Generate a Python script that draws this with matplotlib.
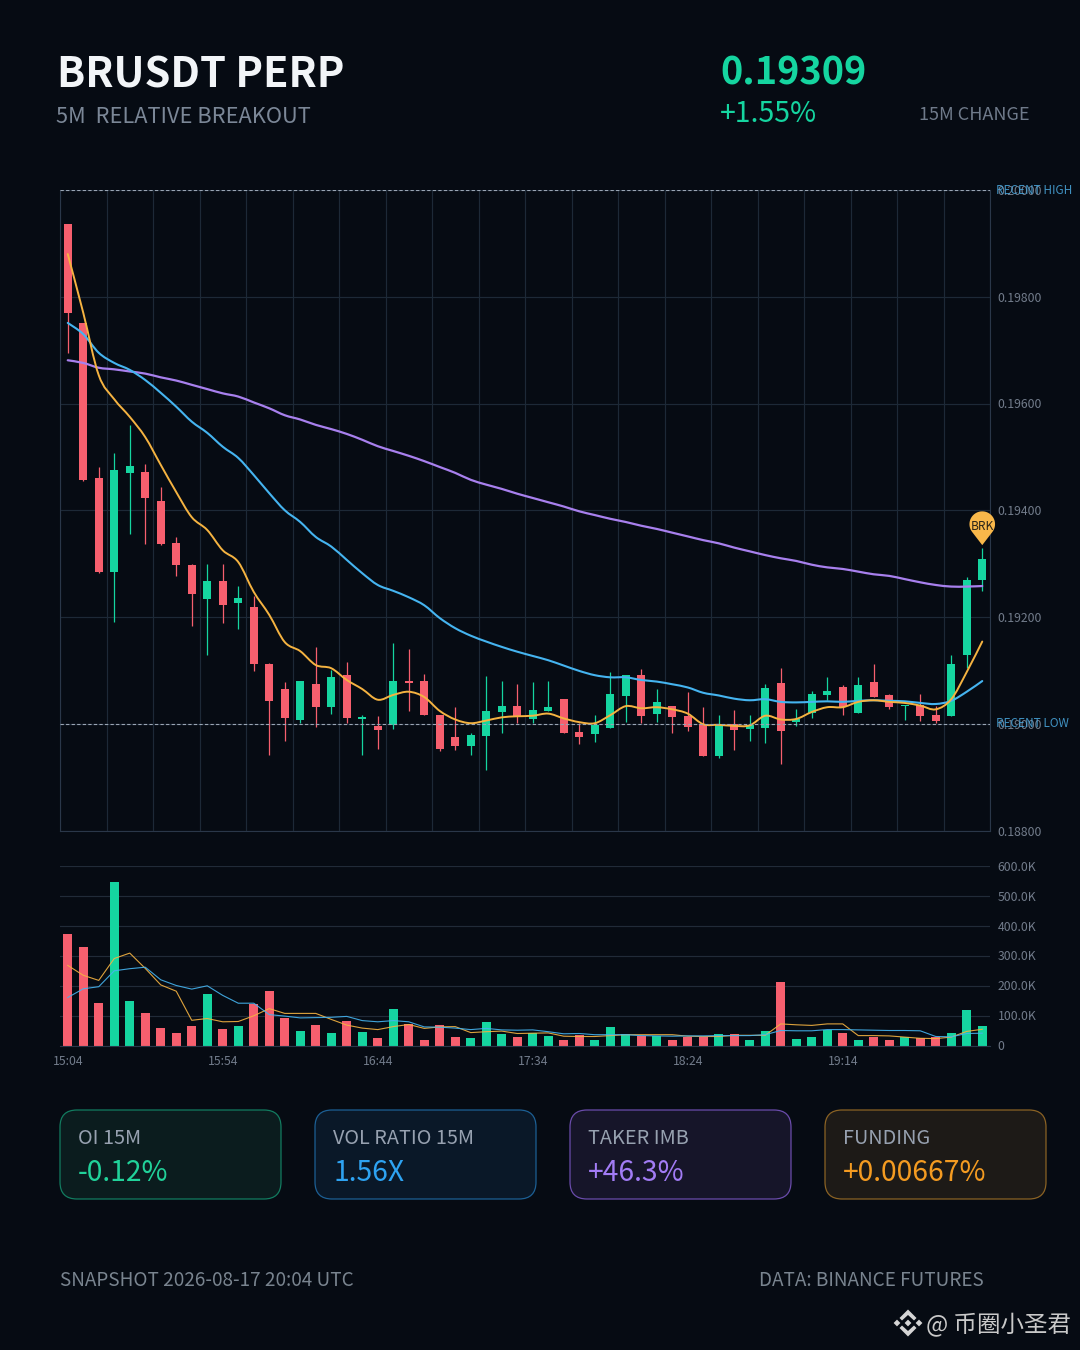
import numpy as np
import matplotlib
matplotlib.use('Agg')
import matplotlib.pyplot as plt
from matplotlib.patches import FancyBboxPatch, PathPatch, Polygon
from matplotlib.path import Path

plt.rcParams['font.family'] = ['Noto Sans CJK SC', 'DejaVu Sans']

opens = [0.19936, 0.19751, 0.19460, 0.19285, 0.19470, 0.19472, 0.19417, 0.19338, 0.19297, 0.19234,
         0.19267, 0.19227, 0.19218, 0.19112, 0.19065, 0.19007, 0.19074, 0.19031, 0.19091, 0.19009,
         0.18996, 0.18997, 0.19081, 0.19080, 0.19017, 0.18975, 0.18959, 0.18977, 0.19022, 0.19034,
         0.19009, 0.19024, 0.19046, 0.18984, 0.18980, 0.18992, 0.19052, 0.19091, 0.19019, 0.19033,
         0.19014, 0.18999, 0.18940, 0.18999, 0.18990, 0.18992, 0.19076, 0.19003, 0.19021, 0.19054,
         0.19069, 0.19020, 0.19079, 0.19053, 0.19033, 0.19035, 0.19017, 0.19015, 0.19128, 0.19270]
closes = [0.19770, 0.19457, 0.19285, 0.19475, 0.19483, 0.19423, 0.19337, 0.19298, 0.19243, 0.19267,
          0.19223, 0.19235, 0.19112, 0.19043, 0.19010, 0.19081, 0.19031, 0.19087, 0.19010, 0.19012,
          0.18989, 0.19081, 0.19076, 0.19016, 0.18952, 0.18959, 0.18978, 0.19024, 0.19033, 0.19015,
          0.19025, 0.19031, 0.18982, 0.18975, 0.18997, 0.19055, 0.19091, 0.19014, 0.19041, 0.19013,
          0.18994, 0.18940, 0.18999, 0.18989, 0.18997, 0.19067, 0.18987, 0.19008, 0.19055, 0.19061,
          0.19031, 0.19072, 0.19050, 0.19031, 0.19035, 0.19014, 0.19005, 0.19112, 0.19269, 0.19309]
highs = [0.19936, 0.19751, 0.19481, 0.19508, 0.19560, 0.19487, 0.19444, 0.19350, 0.19299, 0.19299,
         0.19299, 0.19258, 0.19240, 0.19113, 0.19079, 0.19081, 0.19144, 0.19100, 0.19115, 0.19016,
         0.19014, 0.19152, 0.19140, 0.19094, 0.19017, 0.19032, 0.18982, 0.19089, 0.19080, 0.19074,
         0.19079, 0.19080, 0.19046, 0.19001, 0.19017, 0.19097, 0.19091, 0.19102, 0.19066, 0.19033,
         0.19059, 0.19032, 0.19017, 0.19026, 0.19016, 0.19074, 0.19104, 0.19027, 0.19061, 0.19087,
         0.19072, 0.19087, 0.19112, 0.19056, 0.19035, 0.19055, 0.19033, 0.19129, 0.19275, 0.19329]
lows = [0.19695, 0.19454, 0.19282, 0.19190, 0.19355, 0.19337, 0.19335, 0.19277, 0.19184, 0.19129,
        0.19189, 0.19177, 0.19099, 0.18942, 0.18968, 0.19001, 0.18994, 0.19019, 0.19001, 0.18941,
        0.18952, 0.18990, 0.19024, 0.19016, 0.18949, 0.18951, 0.18942, 0.18913, 0.18983, 0.19001,
        0.19001, 0.19024, 0.18982, 0.18962, 0.18965, 0.18992, 0.19004, 0.19001, 0.19003, 0.18983,
        0.18986, 0.18940, 0.18936, 0.18951, 0.18967, 0.18964, 0.18924, 0.18996, 0.19011, 0.19044,
        0.19017, 0.19020, 0.19050, 0.19027, 0.19007, 0.19005, 0.19002, 0.19015, 0.19105, 0.19249]

ma_fast = [0.19880, 0.19770, 0.19653, 0.19608, 0.19575, 0.19537, 0.19485, 0.19434, 0.19387, 0.19363,
           0.19325, 0.19303, 0.19247, 0.19204, 0.19153, 0.19136, 0.19110, 0.19104, 0.19082, 0.19065,
           0.19045, 0.19054, 0.19060, 0.19050, 0.19024, 0.19008, 0.19001, 0.19006, 0.19012, 0.19014,
           0.19015, 0.19019, 0.19010, 0.19003, 0.19001, 0.19016, 0.19033, 0.19029, 0.19031, 0.19027,
           0.19019, 0.18999, 0.18998, 0.18996, 0.18997, 0.19015, 0.19008, 0.19009, 0.19022, 0.19031,
           0.19031, 0.19041, 0.19044, 0.19041, 0.19039, 0.19034, 0.19027, 0.19046, 0.19097, 0.19154]
ma_mid = [0.19751, 0.19730, 0.19695, 0.19676, 0.19663, 0.19644, 0.19620, 0.19594, 0.19566, 0.19545,
          0.19519, 0.19498, 0.19466, 0.19432, 0.19400, 0.19378, 0.19350, 0.19332, 0.19307, 0.19282,
          0.19260, 0.19249, 0.19237, 0.19222, 0.19198, 0.19179, 0.19165, 0.19154, 0.19144, 0.19135,
          0.19127, 0.19119, 0.19109, 0.19099, 0.19091, 0.19087, 0.19087, 0.19082, 0.19079, 0.19074,
          0.19068, 0.19058, 0.19053, 0.19047, 0.19044, 0.19046, 0.19041, 0.19040, 0.19041, 0.19042,
          0.19041, 0.19043, 0.19044, 0.19043, 0.19042, 0.19039, 0.19037, 0.19043, 0.19060, 0.19080]
ma_slow = [0.19681, 0.19676, 0.19667, 0.19664, 0.19660, 0.19656, 0.19649, 0.19643, 0.19635, 0.19627,
           0.19619, 0.19613, 0.19602, 0.19591, 0.19578, 0.19570, 0.19560, 0.19552, 0.19543, 0.19532,
           0.19520, 0.19511, 0.19502, 0.19492, 0.19481, 0.19470, 0.19457, 0.19448, 0.19440, 0.19431,
           0.19423, 0.19415, 0.19407, 0.19398, 0.19391, 0.19384, 0.19378, 0.19371, 0.19365, 0.19358,
           0.19351, 0.19344, 0.19338, 0.19330, 0.19323, 0.19316, 0.19310, 0.19305, 0.19298, 0.19293,
           0.19290, 0.19285, 0.19280, 0.19277, 0.19271, 0.19265, 0.19260, 0.19257, 0.19257, 0.19258]

# volume in thousands
volume = [371, 328, 143, 546, 148, 108, 60, 42, 66, 171,
          56, 66, 138, 181, 93, 50, 67, 43, 82, 44,
          24, 121, 71, 20, 70, 30, 24, 78, 37, 27,
          42, 31, 19, 34, 19, 61, 39, 31, 33, 17,
          30, 29, 40, 39, 20, 50, 211, 23, 28, 53,
          42, 20, 29, 20, 28, 24, 27, 42, 120, 66]
vol_fast = [267, 234, 217, 290, 308, 257, 202, 181, 84, 90,
            79, 80, 99, 123, 107, 107, 107, 87, 68, 58,
            53, 63, 70, 57, 62, 63, 43, 46, 48, 40,
            41, 42, 31, 30, 30, 33, 36, 36, 36, 36,
            31, 30, 30, 34, 34, 34, 72, 69, 67, 72,
            72, 33, 33, 32, 28, 24, 23, 28, 47, 54]
vol_slow = [160, 189, 196, 249, 256, 261, 219, 200, 188, 199,
            167, 141, 141, 103, 98, 92, 93, 94, 97, 83,
            79, 83, 79, 62, 61, 58, 53, 57, 52, 51,
            52, 46, 39, 40, 36, 36, 36, 33, 32, 31,
            32, 32, 33, 33, 33, 36, 50, 49, 49, 53,
            53, 52, 51, 50, 50, 49, 30, 29, 40, 41]

price_ticks = [0.188, 0.190, 0.192, 0.194, 0.196, 0.198, 0.200]
vol_ticks = [0, 100, 200, 300, 400, 500, 600]
vol_tick_labels = ['0', '100.0K', '200.0K', '300.0K', '400.0K', '500.0K', '600.0K']
time_labels = ['15:04', '15:54', '16:44', '17:34', '18:24', '19:14']
recent_high = 0.200
recent_low = 0.190

BG = '#060b13'
GRID = '#1d2937'
AXIS = '#2a3749'
RED = '#f65f6e'
GREEN = '#15d5a0'
YELLOW = '#f5b341'
BLUE = '#45b4f0'
PURPLE = '#a880ee'
TICK = '#727c8b'

W, H = 1080, 1350
fig = plt.figure(figsize=(W / 100, H / 100), dpi=100, facecolor=BG)


def px_axes(left, top, right, bottom, **kw):
    return fig.add_axes([left / W, 1 - bottom / H, (right - left) / W, (bottom - top) / H], **kw)


def smooth_line(axis, xs, ys, color, lw, zorder):
    # bezier through the points, the lines on the reference are drawn smoothed
    xs = np.asarray(xs, dtype=float)
    ys = np.asarray(ys, dtype=float)
    verts = [(xs[0], ys[0])]
    codes = [Path.MOVETO]
    n = len(xs)
    for i in range(n - 1):
        a, b = max(i - 1, 0), min(i + 2, n - 1)
        verts.append((xs[i] + (xs[i + 1] - xs[a]) / 6, ys[i] + (ys[i + 1] - ys[a]) / 6))
        verts.append((xs[i + 1] - (xs[b] - xs[i]) / 6, ys[i + 1] - (ys[b] - ys[i]) / 6))
        verts.append((xs[i + 1], ys[i + 1]))
        codes += [Path.CURVE4] * 3
    axis.add_patch(PathPatch(Path(verts, codes), fc='none', ec=color, lw=lw, zorder=zorder, capstyle='round'))


x = np.arange(len(closes))
cols = [GREEN if c >= o else RED for o, c in zip(opens, closes)]

# candles
ax = px_axes(60, 190, 990, 830.5, facecolor=BG)
ax.set_xlim(-0.5, 59.5)
ax.set_ylim(0.188, 0.200)
ax.set_yticks(price_ticks)
ax.set_yticklabels([f'{t:.5f}' for t in price_ticks])
ax.set_xticks(np.arange(-0.5, 60, 3))
ax.set_xticklabels([])
ax.yaxis.tick_right()
ax.tick_params(axis='both', length=0)
ax.tick_params(axis='y', colors=TICK, labelsize=8.8, pad=5.5)
ax.grid(True, color=GRID, lw=0.85)
ax.set_axisbelow(True)
ax.spines['top'].set_visible(False)
for side in ['left', 'right', 'bottom']:
    ax.spines[side].set_color(AXIS)
    ax.spines[side].set_linewidth(0.8)

ax.vlines(x, lows, highs, colors=cols, lw=0.9, zorder=2)
body_bottom = np.minimum(opens, closes)
body_height = np.abs(np.array(closes) - np.array(opens))
ax.bar(x, body_height, bottom=body_bottom, width=0.52, color=cols, zorder=3)

smooth_line(ax, x, ma_slow, PURPLE, 1.6, 4)
smooth_line(ax, x, ma_mid, BLUE, 1.5, 4)
smooth_line(ax, x, ma_fast, YELLOW, 1.4, 5)

for level, label in [(recent_high, 'RECENT HIGH'), (recent_low, 'RECENT LOW')]:
    ax.axhline(level, color='#9aa5b4', lw=0.8, ls=(0, (3, 2)), zorder=6)
    ax.text(1.0064, level, label, transform=ax.get_yaxis_transform(), color='#4aa9e0', alpha=0.85,
            fontsize=8.5, va='center', ha='left', clip_on=False)

# volume
ax2 = px_axes(60, 865.5, 990, 1045.5, facecolor=BG)
ax2.set_xlim(-0.5, 59.5)
ax2.set_ylim(0, 600)
ax2.set_yticks(vol_ticks)
ax2.set_yticklabels(vol_tick_labels)
ax2.set_xticks(np.arange(0, 60, 10))
ax2.set_xticklabels(time_labels)
ax2.yaxis.tick_right()
ax2.tick_params(axis='both', length=0, colors=TICK, labelsize=8.8)
ax2.tick_params(axis='y', pad=5.5)
ax2.tick_params(axis='x', pad=6.5)
ax2.grid(True, axis='y', color='#212b38', lw=0.85)
ax2.set_axisbelow(True)
for side in ['top', 'left', 'right']:
    ax2.spines[side].set_visible(False)
ax2.spines['bottom'].set_color(AXIS)
ax2.spines['bottom'].set_linewidth(0.8)

ax2.bar(x, volume, width=0.55, color=cols, zorder=2)
ax2.plot(x, vol_fast, color=YELLOW, lw=0.8, alpha=0.9, zorder=3)
ax2.plot(x, vol_slow, color=BLUE, lw=0.8, alpha=0.9, zorder=3)

# overlay in pixel coords for header, cards, footer
ov = fig.add_axes([0, 0, 1, 1], facecolor='none')
ov.set_xlim(0, W)
ov.set_ylim(H, 0)
ov.axis('off')

ov.text(57, 76, 'BRUSDT PERP', color='#f2f5f8', fontsize=29.9, fontweight='bold', va='center', ha='left')
ov.text(56, 117, '5M  RELATIVE BREAKOUT', color='#7b8797', fontsize=15.7, va='center', ha='left')
ov.text(720, 73, '0.19309', color=GREEN, fontsize=27.3, fontweight='bold', va='center', ha='left')
ov.text(720, 114, '+1.55%', color=GREEN, fontsize=20.4, va='center', ha='left')
ov.text(1030, 115, '15M CHANGE', color='#6f7a8a', fontsize=13, va='center', ha='right')

# breakout pin above the last candle
tip_x, tip_y = ax.transData.transform((x[-1], highs[-1]))
tip_y = H - tip_y - 3
r = 12.8
cy = tip_y - 21
ang = np.radians(np.linspace(-38, 218, 50))
pin = [(tip_x, tip_y)] + [(tip_x + r * np.cos(a), cy - r * np.sin(a)) for a in ang]
ov.add_patch(Polygon(pin, closed=True, fc='#f9b84a', ec='none', zorder=7))
ov.text(tip_x, cy + 2, 'BRK', color='#2a2418', fontsize=8.6, ha='center', va='center', zorder=8)

cards = [
    (60, 'OI 15M', '-0.12%', '#0b1c1e', '#127c60', '#21d29a'),
    (315, 'VOL RATIO 15M', '1.56X', '#0a1828', '#1c5f94', '#2ea3f2'),
    (570, 'TAKER IMB', '+46.3%', '#161529', '#6a4cab', '#a27cf5'),
    (825, 'FUNDING', '+0.00667%', '#1d1a17', '#8a6224', '#f49b21'),
]
for left, title, value, face, edge, col in cards:
    ov.add_patch(FancyBboxPatch((left + 17, 1110 + 17), 221 - 34, 89 - 34,
                                boxstyle='round,pad=17,rounding_size=17', fc=face, ec=edge, lw=0.9))
    ov.text(left + 18, 1139, title, color='#97a1b0', fontsize=14.3, va='center', ha='left')
    ov.text(left + 18, 1173, value, color=col, fontsize=20.3, va='center', ha='left')

ov.text(60, 1281, 'SNAPSHOT 2026-08-17 20:04 UTC', color='#79848f', fontsize=13.65, va='center', ha='left')
ov.text(984, 1281, 'DATA: BINANCE FUTURES', color='#79848f', fontsize=13.65, va='center', ha='right')

# watermark logo
mark = '#d5d5d5'
cx, cy2 = 908, 1323
for dx in [-11, 0, 11]:
    s = 3.4
    ov.add_patch(Polygon([(cx + dx, cy2 - s), (cx + dx + s, cy2), (cx + dx, cy2 + s), (cx + dx - s, cy2)],
                         closed=True, fc=mark, ec='none'))
for sgn in [-1, 1]:
    ov.add_patch(Polygon([(cx, cy2 + sgn * 13.5), (cx + 8.5, cy2 + sgn * 5), (cx + 6, cy2 + sgn * 2.5),
                          (cx, cy2 + sgn * 8), (cx - 6, cy2 + sgn * 2.5), (cx - 8.5, cy2 + sgn * 5)],
                         closed=True, fc=mark, ec='none'))
ov.text(926, 1325, '@ 币圈小圣君', color='#c9c9c9', fontsize=16.9, va='center', ha='left')

fig.savefig('out.png', dpi=100, facecolor=BG)
